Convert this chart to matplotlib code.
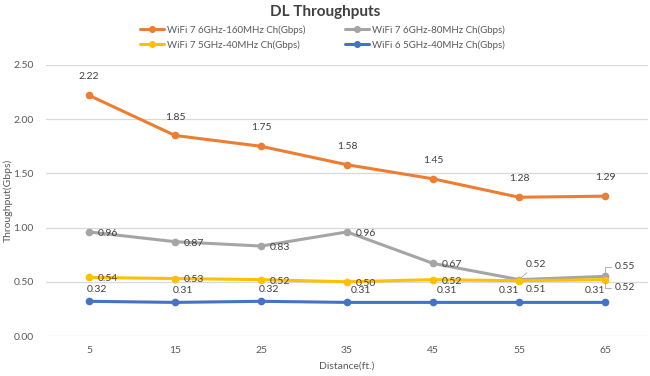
import matplotlib
matplotlib.use("Agg")
import matplotlib.pyplot as plt

plt.rcParams['font.family'] = ['Lato', 'DejaVu Sans']

distances = ["5", "15", "25", "35", "45", "55", "65"]
wifi7_6g_160 = [2.22, 1.85, 1.75, 1.58, 1.45, 1.28, 1.29]
wifi7_6g_80 = [0.96, 0.87, 0.83, 0.96, 0.67, 0.52, 0.55]
wifi7_5g_40 = [0.54, 0.53, 0.52, 0.50, 0.52, 0.51, 0.52]
wifi6_5g_40 = [0.32, 0.31, 0.32, 0.31, 0.31, 0.31, 0.31]

series_names = ["WiFi 7 6GHz-160MHz Ch(Gbps)", "WiFi 7 6GHz-80MHz Ch(Gbps)",
                "WiFi 7 5GHz-40MHz Ch(Gbps)", "WiFi 6 5GHz-40MHz Ch(Gbps)"]
yticks = [0.0, 0.5, 1.0, 1.5, 2.0, 2.5]

c_orange = "#ED7D31"
c_gray = "#A5A5A5"
c_yellow = "#FFC000"
c_blue = "#4472C4"
txt = "#595959"

fig = plt.figure(figsize=(6.5, 3.76), dpi=100)
ax = fig.add_axes([46/650, 1-336/376, 602/650, (336-65)/376])

x = list(range(len(distances)))
kw = dict(lw=2.2, marker='o', markersize=4.5, solid_capstyle='round')
l1, = ax.plot(x, wifi7_6g_160, color=c_orange, label=series_names[0], zorder=4, **kw)
l2, = ax.plot(x, wifi7_6g_80, color=c_gray, label=series_names[1], zorder=3, **kw)
l3, = ax.plot(x, wifi7_5g_40, color=c_yellow, label=series_names[2], zorder=5, **kw)
l4, = ax.plot(x, wifi6_5g_40, color=c_blue, label=series_names[3], zorder=4, **kw)

ax.set_xlim(-0.5, len(distances)-0.5)
ax.set_ylim(0, 2.5)
ax.set_yticks(yticks)
ax.set_yticklabels([f"{v:.2f}" for v in yticks])
ax.set_xticks(x)
ax.set_xticklabels(distances)
ax.tick_params(axis='both', length=0, labelsize=7.5, colors=txt)
ax.tick_params(axis='y', pad=9)
ax.tick_params(axis='x', pad=7)
ax.grid(axis='y', color="#D9D9D9", lw=0.9)
ax.set_axisbelow(True)
for s in ax.spines.values():
    s.set_visible(False)

fs = 7.5
def lab(i, v, dx, dy, ha='left', va='center', leader=None):
    ax.annotate(f"{v:.2f}", xy=(i, v), xytext=(dx, dy), textcoords='offset points',
                ha=ha, va=va, fontsize=fs, color="#404040", zorder=6,
                arrowprops=leader)

for i, v in enumerate(wifi7_6g_160):
    lab(i, v, 0, 10, ha='center', va='bottom')
for i, v in enumerate(wifi7_6g_80):
    if i == 5:
        lab(i, v, 5, 11, leader=dict(arrowstyle='-', color=c_gray, lw=0.6, shrinkA=1, shrinkB=2))
    elif i == 6:
        lab(i, v, 7, 7, leader=dict(arrowstyle='-', color=c_gray, lw=0.6, shrinkA=1, shrinkB=2,
                                    connectionstyle='angle,angleA=0,angleB=90,rad=0'))
    else:
        lab(i, v, 6, -1)
for i, v in enumerate(wifi7_5g_40):
    if i == 5:
        lab(i, v, 5, -6, va='center')
    elif i == 6:
        lab(i, v, 7, -6, leader=dict(arrowstyle='-', color=c_gray, lw=0.6, shrinkA=1, shrinkB=2,
                                     connectionstyle='angle,angleA=0,angleB=90,rad=0'))
    else:
        lab(i, v, 6, -1)
for i, v in enumerate(wifi6_5g_40):
    if i >= 5:
        lab(i, v, 0, 5, ha='right', va='bottom')
    elif i >= 3:
        lab(i, v, 3, 5, ha='left', va='bottom')
    else:
        lab(i, v, 6, 5, ha='center', va='bottom')

ax.set_xlabel("Distance(ft.)", fontsize=7.5, color=txt, labelpad=5)
fig.text(8/650, 1-200/376, "Throughput(Gbps)", rotation=90, ha='center', va='center',
         fontsize=7.5, color=txt)

fig.text(0.5, 1-12/376, "DL Throughputs", ha='center', va='center', fontsize=11,
         fontweight='bold', color="#404040")

leg_kw = dict(ncol=1, loc='center left', frameon=False, fontsize=7, labelcolor=txt,
              handlelength=2.5, handletextpad=0.3, labelspacing=0.55, markerscale=0.9,
              borderpad=0, borderaxespad=0)
fig.legend([l1, l3], [series_names[0], series_names[2]],
           bbox_to_anchor=(140/650, 1-37.5/376), **leg_kw)
fig.legend([l2, l4], [series_names[1], series_names[3]],
           bbox_to_anchor=(345/650, 1-37.5/376), **leg_kw)

fig.savefig("out.png", dpi=100)
